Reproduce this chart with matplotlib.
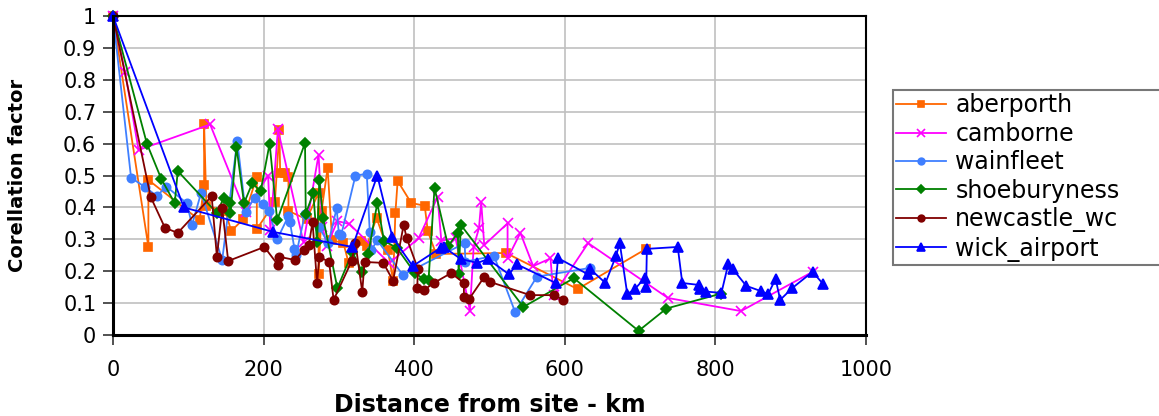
import matplotlib
matplotlib.use("Agg")
import matplotlib.pyplot as plt

# correlation factor vs distance for each reference site
aberporth_km = [0, 47, 47, 115, 121, 121, 124, 149, 157, 173, 191, 191, 215, 221, 222, 229, 233, 233,
                257, 273, 273, 277, 285, 291, 306, 313, 330, 337, 350, 365, 372, 375, 378, 396, 414,
                418, 429, 522, 617, 708]
aberporth_val = [1.0, 0.276, 0.486, 0.36, 0.47, 0.66, 0.404, 0.39, 0.326, 0.363, 0.496, 0.332, 0.416,
                 0.643, 0.507, 0.507, 0.495, 0.389, 0.363, 0.445, 0.19, 0.39, 0.523, 0.297, 0.288, 0.225,
                 0.295, 0.28, 0.367, 0.266, 0.17, 0.382, 0.483, 0.414, 0.405, 0.326, 0.254, 0.257,
                 0.144, 0.27]

camborne_km = [0, 16, 34, 129, 176, 206, 209, 219, 253, 273, 278, 284, 298, 314, 367, 406, 431, 436,
               455, 474, 479, 486, 489, 493, 524, 524, 541, 558, 581, 585, 631, 737, 834, 929]
camborne_val = [1.0, 0.825, 0.58, 0.66, 0.385, 0.5, 0.33, 0.645, 0.29, 0.565, 0.34, 0.28, 0.357, 0.348,
                0.225, 0.304, 0.432, 0.296, 0.303, 0.075, 0.277, 0.335, 0.417, 0.282, 0.35, 0.24,
                0.32, 0.216, 0.24, 0.125, 0.288, 0.116, 0.075, 0.198]

wainfleet_km = [0, 24, 43, 58, 71, 98, 105, 117, 145, 165, 176, 188, 199, 207, 218, 233, 235, 241, 243,
                255, 273, 286, 297, 300, 303, 322, 337, 341, 343, 351, 385, 467, 468, 506, 534, 563, 633]
wainfleet_val = [1.0, 0.493, 0.463, 0.436, 0.465, 0.413, 0.345, 0.446, 0.235, 0.609, 0.387, 0.43, 0.41,
                 0.39, 0.30, 0.373, 0.354, 0.27, 0.25, 0.38, 0.34, 0.288, 0.397, 0.316, 0.313, 0.50,
                 0.505, 0.323, 0.266, 0.297, 0.188, 0.288, 0.23, 0.248, 0.072, 0.183, 0.21]

shoebury_km = [0, 45, 64, 82, 86, 138, 147, 155, 156, 164, 174, 185, 196, 208, 218, 255, 256, 266, 271,
               274, 279, 298, 318, 331, 339, 351, 360, 377, 401, 413, 419, 427, 445, 458, 459, 462,
               545, 612, 698, 735, 808]
shoebury_val = [1.0, 0.60, 0.49, 0.413, 0.514, 0.382, 0.43, 0.413, 0.382, 0.589, 0.413, 0.476, 0.45,
                0.6, 0.36, 0.602, 0.38, 0.445, 0.29, 0.486, 0.367, 0.147, 0.26, 0.197, 0.254, 0.414,
                0.295, 0.273, 0.194, 0.175, 0.172, 0.461, 0.279, 0.32, 0.19, 0.345, 0.088, 0.178,
                0.013, 0.083, 0.13]

newcastle_km = [0, 50, 69, 86, 131, 138, 145, 153, 201, 219, 221, 242, 253, 260, 265, 271, 274, 287,
                293, 317, 322, 331, 334, 359, 372, 386, 390, 405, 404, 413, 426, 449, 466, 466, 473,
                493, 500, 554, 586, 598]
newcastle_val = [1.0, 0.433, 0.336, 0.32, 0.435, 0.245, 0.397, 0.232, 0.276, 0.22, 0.245, 0.235, 0.266,
                 0.282, 0.354, 0.163, 0.245, 0.229, 0.11, 0.232, 0.288, 0.135, 0.229, 0.226, 0.17,
                 0.345, 0.304, 0.207, 0.147, 0.141, 0.163, 0.194, 0.163, 0.12, 0.113, 0.182, 0.167,
                 0.125, 0.125, 0.11]

wick_km = [0, 94, 213, 318, 351, 371, 398, 435, 439, 462, 484, 498, 526, 536, 588, 591, 631, 634, 654,
           668, 673, 683, 693, 706, 708, 709, 750, 756, 778, 780, 788, 808, 817, 823, 841, 860, 870,
           880, 886, 902, 929, 943]
wick_val = [1.0, 0.40, 0.323, 0.276, 0.50, 0.307, 0.216, 0.273, 0.276, 0.238, 0.226, 0.238, 0.19,
            0.222, 0.163, 0.241, 0.19, 0.206, 0.163, 0.248, 0.288, 0.128, 0.144, 0.178, 0.15, 0.27,
            0.276, 0.163, 0.157, 0.144, 0.136, 0.132, 0.222, 0.207, 0.154, 0.138, 0.128, 0.176,
            0.11, 0.147, 0.198, 0.16]

x_ticks = [0, 200, 400, 600, 800, 1000]
y_ticks = [0, 0.1, 0.2, 0.3, 0.4, 0.5, 0.6, 0.7, 0.8, 0.9, 1]
y_tick_labels = ["0", "0.1", "0.2", "0.3", "0.4", "0.5", "0.6", "0.7", "0.8", "0.9", "1"]

series = [
    ("aberporth", aberporth_km, aberporth_val, "#FF6600", "s", 5.5),
    ("camborne", camborne_km, camborne_val, "#FF00FF", "x", 6.5),
    ("wainfleet", wainfleet_km, wainfleet_val, "#3F7FFF", "o", 6),
    ("shoeburyness", shoebury_km, shoebury_val, "#008000", "D", 5),
    ("newcastle_wc", newcastle_km, newcastle_val, "#800000", "o", 6),
    ("wick_airport", wick_km, wick_val, "#0000FF", "^", 7),
]

fig = plt.figure(figsize=(11.59, 4.16), dpi=100)
ax = fig.add_axes([113 / 1159, 1 - 335 / 416, (866 - 113) / 1159, (335 - 16) / 416])

for name, xs, ys, color, marker, ms in series:
    ax.plot(xs, ys, color=color, marker=marker, markersize=ms, linewidth=1.3,
            markeredgewidth=1.2, label=name, clip_on=False)

ax.set_xlim(0, 1000)
ax.set_ylim(0, 1)
ax.set_xticks(x_ticks)
ax.set_yticks(y_ticks)
ax.set_yticklabels(y_tick_labels)
ax.grid(True, color="#c0c0c0", linewidth=1.2)
ax.set_axisbelow(True)
ax.tick_params(axis="both", direction="out", length=7, width=1.2, labelsize=15, color="#333333")
ax.tick_params(axis="x", pad=11)
ax.tick_params(axis="y", pad=5)

for side in ["top", "right"]:
    ax.spines[side].set_linewidth(1.5)
    ax.spines[side].set_color("black")
for side in ["left", "bottom"]:
    ax.spines[side].set_linewidth(2.2)
    ax.spines[side].set_color("black")

ax.set_xlabel("Distance from site - km", fontsize=17, fontweight="bold", labelpad=9)
ax.set_ylabel("Corellation factor", fontsize=14, fontweight="bold", labelpad=26)

leg = fig.legend(loc="upper left", bbox_to_anchor=(893 / 1159, 1 - 90 / 416, 290 / 1159, 0),
                 mode="expand", fontsize=17, frameon=True, fancybox=False, borderaxespad=0,
                 handlelength=2.1, handletextpad=0.4, labelspacing=0.19, borderpad=0.14,
                 markerscale=0.8)
leg.get_frame().set_edgecolor("#555555")
leg.get_frame().set_linewidth(1.5)

fig.savefig("out.png", dpi=100)
